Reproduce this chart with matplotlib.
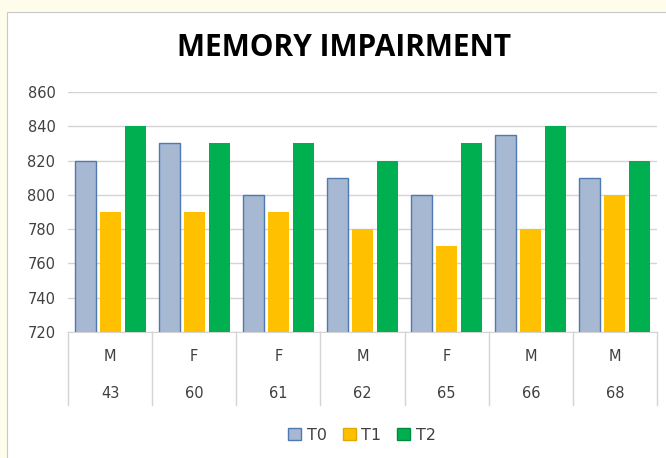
import matplotlib.pyplot as plt
import matplotlib.patches as mpatches
import numpy as np

BG = "#FEFCEB"
GRID = "#D4D4D4"
TEXT = "#404040"
C_T0 = "#A6B8D2"
E_T0 = "#4F79B0"
C_T1 = "#FFC000"
C_T2 = "#00B050"

sexes = ["M", "F", "F", "M", "F", "M", "M"]
ages = ["43", "60", "61", "62", "65", "66", "68"]
t0 = [820, 830, 800, 810, 800, 835, 810]
t1 = [790, 790, 790, 780, 770, 780, 800]
t2 = [840, 830, 830, 820, 830, 840, 820]

W, H = 666, 458
fig = plt.figure(figsize=(W / 100, H / 100), dpi=100)
fig.patch.set_facecolor(BG)

# white chart card behind everything
card = mpatches.Rectangle((7 / W, -0.01), 1, 1.01 - 12 / H, transform=fig.transFigure,
                          facecolor="white", edgecolor="#C8C8C8", lw=0.8, zorder=-10)
fig.patches.append(card)

ax = fig.add_axes([68 / W, 1 - 332 / H, (657 - 68) / W, (332 - 92) / H])
ax.set_zorder(1)
ax.set_facecolor("white")
ax.set_axisbelow(True)

x = np.arange(len(ages))
bw = 0.25
off = 0.297
ax.bar(x - off, t0, bw, color=C_T0, edgecolor=E_T0, lw=1.0, zorder=3, label="T0")
ax.bar(x, t1, bw, color=C_T1, edgecolor="none", zorder=3, label="T1")
ax.bar(x + off, t2, bw, color=C_T2, edgecolor="none", zorder=3, label="T2")

ax.set_ylim(720, 860)
ax.set_xlim(-0.5, len(ages) - 0.5)
ax.set_yticks(np.arange(720, 861, 20))
ax.yaxis.grid(True, color=GRID, lw=1.0)
ax.tick_params(axis="y", length=0, labelsize=10.5, labelcolor=TEXT, pad=9)
ax.set_xticks([])
for s in ["top", "right", "left"]:
    ax.spines[s].set_visible(False)
ax.spines["bottom"].set_color(GRID)

# two-row category table under the axis
for xi in np.arange(-0.5, len(ages), 1.0):
    ax.plot([xi, xi], [0, -0.304], transform=ax.get_xaxis_transform(),
            color=GRID, lw=1.0, clip_on=False)
for i in range(len(ages)):
    ax.text(i, -0.104, sexes[i], transform=ax.get_xaxis_transform(),
            ha="center", va="center", fontsize=10.5, color=TEXT)
    ax.text(i, -0.258, ages[i], transform=ax.get_xaxis_transform(),
            ha="center", va="center", fontsize=10.5, color=TEXT)

fig.text(0.516, 1 - 48 / H, "MEMORY IMPAIRMENT", ha="center", va="center",
         fontsize=21.5, fontweight="bold", color="black", family="Open Sans")

handles = [mpatches.Patch(facecolor=C_T0, edgecolor=E_T0, label="T0"),
           mpatches.Patch(facecolor=C_T1, edgecolor="#E0A800", label="T1"),
           mpatches.Patch(facecolor=C_T2, edgecolor="#008A3E", label="T2")]
fig.legend(handles=handles, loc="center", bbox_to_anchor=(362 / W, 1 - 435 / H),
           ncol=3, frameon=False, fontsize=11.5, handlelength=0.8, handleheight=0.8,
           handletextpad=0.35, columnspacing=1.0, labelcolor=TEXT)

fig.savefig("out.png", dpi=100, facecolor=BG)
